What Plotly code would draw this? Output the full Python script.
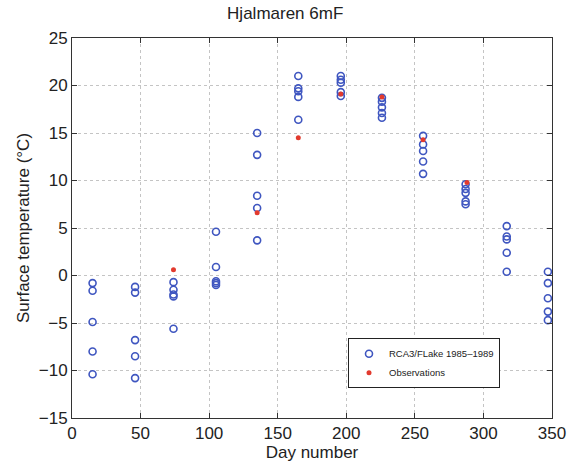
import plotly.graph_objects as go

model_day = [15]*5 + [46]*5 + [74]*5 + [105]*5 + [135]*5 + [165]*5 + [196]*5 + [226]*5 + [256]*5 + [287]*5 + [317]*5 + [347]*5
model_temp = [-0.8, -1.6, -4.9, -8.0, -10.4,
              -1.2, -1.8, -6.8, -8.5, -10.8,
              -0.7, -1.5, -2.0, -2.2, -5.6,
              4.6, 0.9, -0.6, -0.8, -1.0,
              15.0, 12.7, 8.4, 7.1, 3.7,
              21.0, 19.7, 19.4, 18.8, 16.4,
              21.0, 20.6, 20.3, 19.3, 18.9,
              18.7, 18.3, 17.7, 17.1, 16.6,
              14.7, 13.8, 13.1, 12.0, 10.7,
              9.6, 9.1, 8.7, 7.8, 7.5,
              5.2, 4.1, 3.8, 2.4, 0.4,
              0.4, -0.8, -2.4, -3.8, -4.7]
obs_day = [74, 135, 165, 196, 226, 256, 288]
obs_temp = [0.6, 6.6, 14.5, 19.1, 18.8, 14.3, 9.8]
x_ticks = [0, 50, 100, 150, 200, 250, 300, 350]
y_ticks = [-15, -10, -5, 0, 5, 10, 15, 20, 25]

fig = go.Figure()
fig.add_trace(go.Scatter(x=model_day, y=model_temp, mode="markers", name="RCA3/FLake 1985\u20131989",
                         marker=dict(symbol="circle-open", size=7, color="#3f56c0", line=dict(width=1.6))))
fig.add_trace(go.Scatter(x=obs_day, y=obs_temp, mode="markers", name="Observations",
                         marker=dict(symbol="circle", size=5, color="#e23a2e")))

axis_common = dict(showline=True, linecolor="#333", linewidth=1, mirror="allticks", ticks="inside",
                   ticklen=5, tickcolor="#333", showgrid=True, gridcolor="#c4c4c4", griddash="dot",
                   gridwidth=1, zeroline=False, automargin=False, tickfont=dict(size=17, color="#222"))
fig.update_xaxes(range=[0, 350], tickvals=x_ticks, title=dict(text="Day number", font=dict(size=17, color="#222"), standoff=2), **axis_common)
fig.update_yaxes(range=[-15, 25], tickvals=y_ticks, title=dict(text="Surface temperature (\u00b0C)", font=dict(size=17, color="#222"), standoff=4), **axis_common)

fig.update_layout(
    width=567, height=466,
    margin=dict(l=72, r=15, t=38, b=48),
    paper_bgcolor="white", plot_bgcolor="white",
    font=dict(family="Liberation Sans, Arial, sans-serif", color="#222"),
    title=dict(text="Hjalmaren 6mF", xref="container", x=0.503, xanchor="center", y=0.985, yanchor="top", font=dict(size=17)),
    legend=dict(x=0.575, y=0.21, xanchor="left", yanchor="top", bordercolor="#222", borderwidth=1,
                bgcolor="white", font=dict(size=9.5), tracegroupgap=0, itemwidth=30),
    showlegend=True,
)

fig.write_html("out.html")
